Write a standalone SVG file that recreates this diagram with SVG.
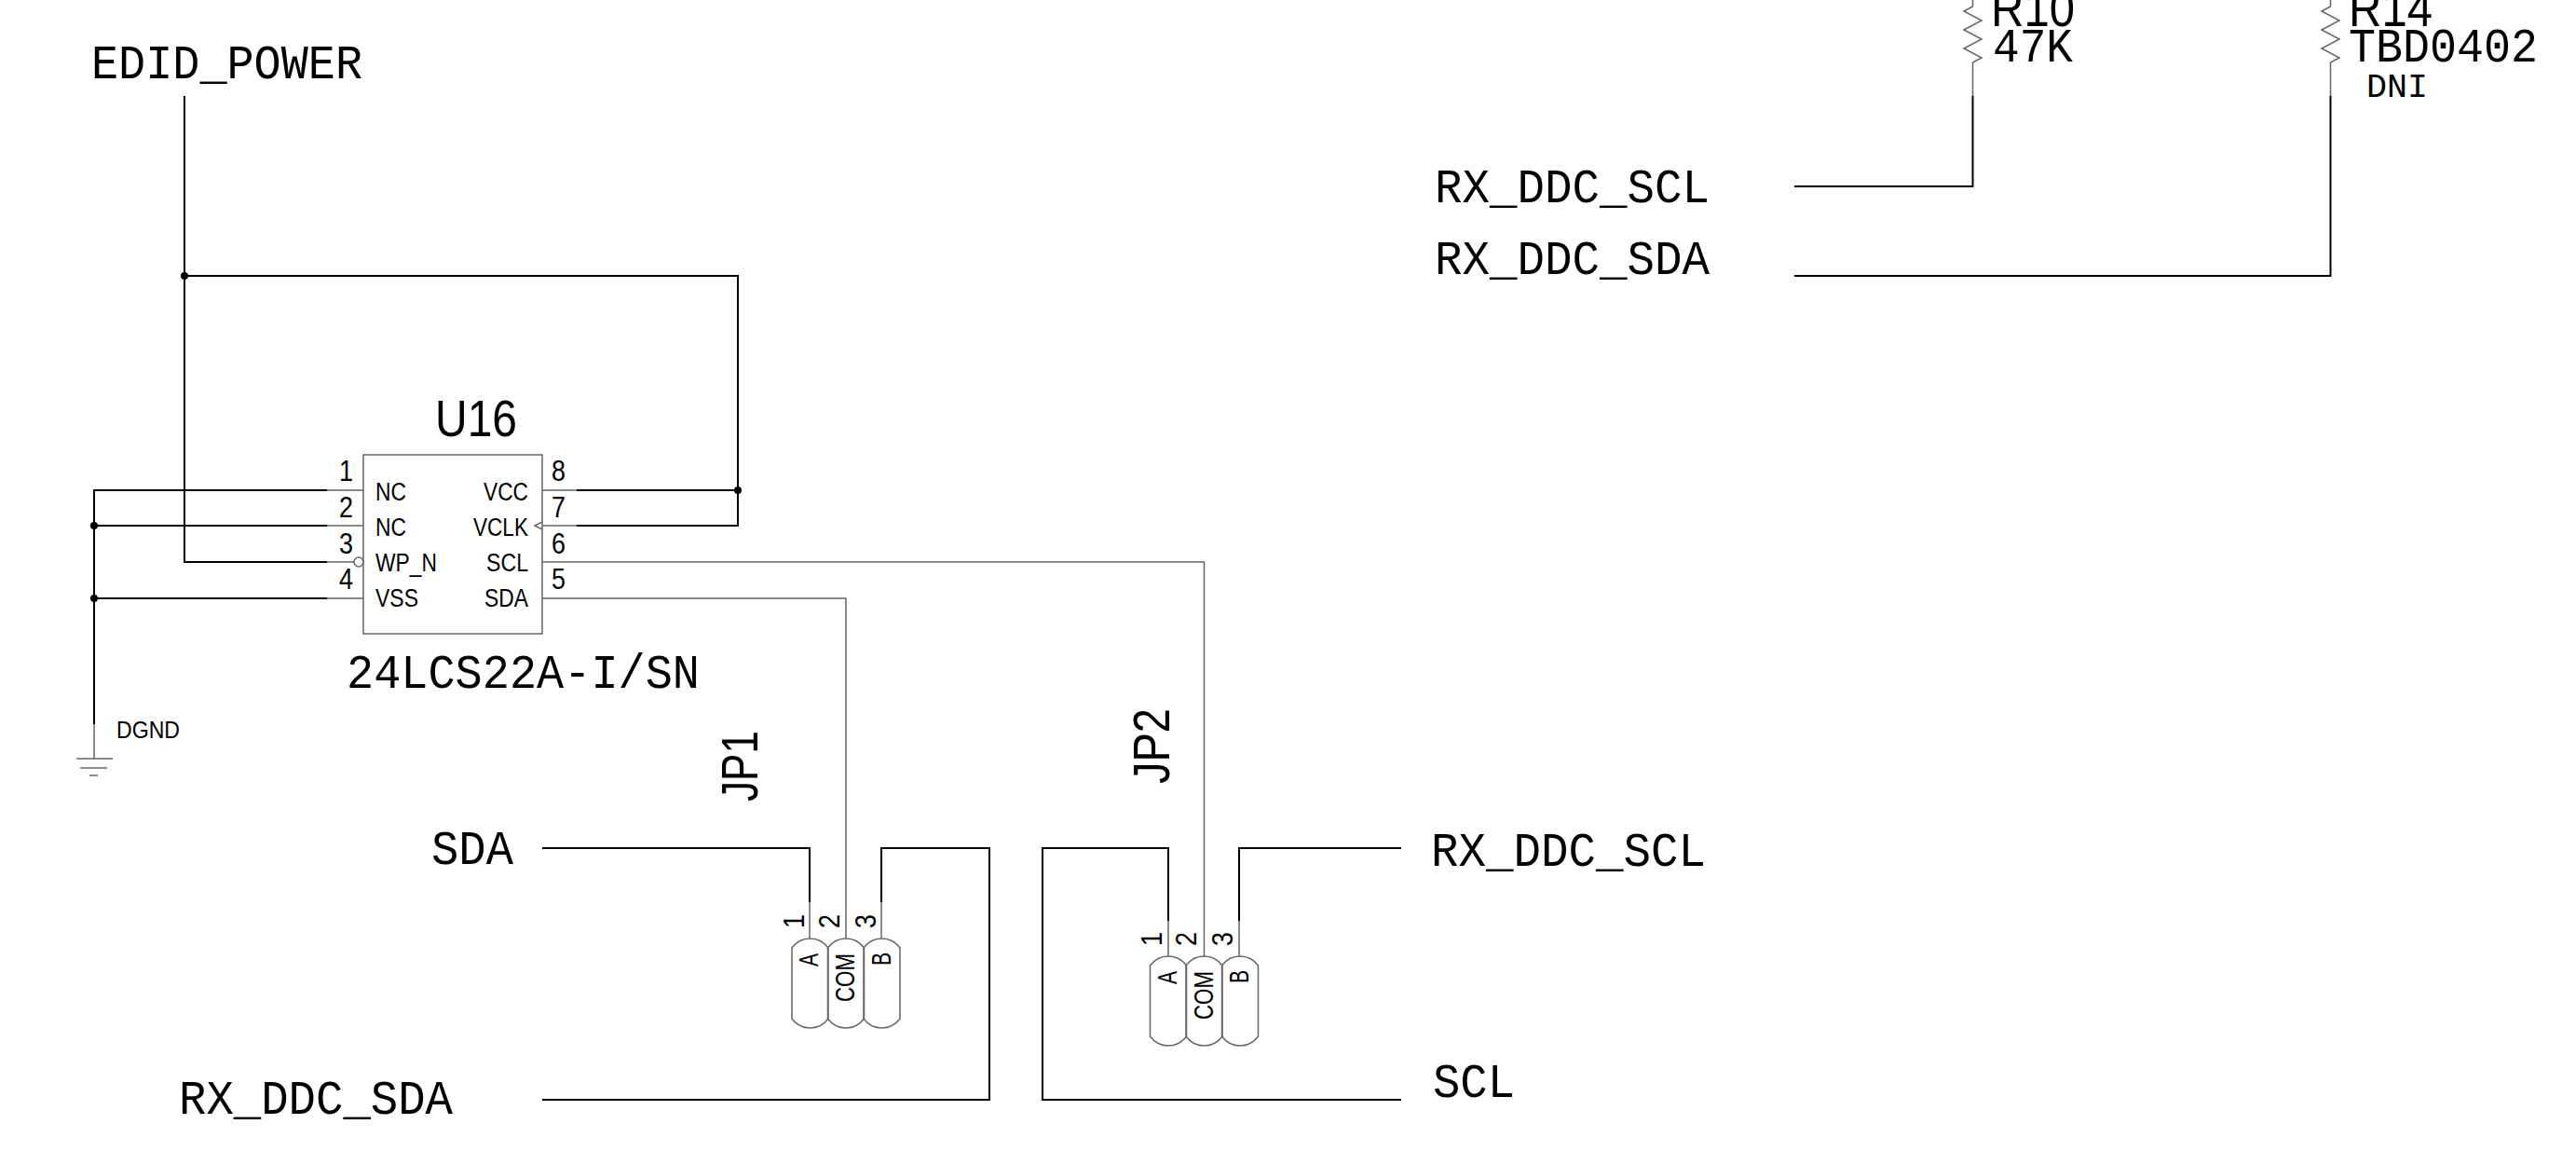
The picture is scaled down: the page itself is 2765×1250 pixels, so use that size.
<svg xmlns="http://www.w3.org/2000/svg" width="2765" height="1250" viewBox="0 0 2765 1250">
<defs>
<style>
text{fill:#000}
.w{fill:none;stroke:#000;stroke-width:2}
.g{fill:none;stroke:#666;stroke-width:1.5}
.m{font-family:"Liberation Mono",monospace;font-size:51px}
.s{font-family:"Liberation Mono",monospace;font-size:37px}
.r{font-family:"Liberation Sans",Arial,sans-serif;font-size:56px}
.p{font-family:"Liberation Sans",Arial,sans-serif;font-size:32px}
.i{font-family:"Liberation Sans",Arial,sans-serif;font-size:27px}
.l{font-family:"Liberation Sans",Arial,sans-serif;font-size:30px}
.d{font-family:"Liberation Sans",Arial,sans-serif;font-size:25px}
</style>
<path id="pill" class="g" d="M-19.500,10C-15,4 -8,0 0,0C8,0 15,4 19.500,10V86C15,92 8,96 0,96C-8,96 -15,92 -19.500,86Z"/>
<path id="zig" class="g" d="M0,0V7L-9.500,12L9.500,22L-9.500,32L9.500,42L-9.500,52L9.500,62L0,67V103"/>
</defs>
<g id="connectors">
<path class="w" d="M198,103V603H351"/>
<path class="w" d="M198,296H792V564H619"/>
<path class="w" d="M619,526H792"/>
<path class="w" d="M351,526H101V777"/>
<path class="w" d="M101,564H351"/>
<path class="w" d="M101,642H351"/>
<path class="g" d="M582,603H1292.500V1026"/>
<path class="g" d="M582,642H908V1007"/>
<path class="w" d="M582,910H869V968"/>
<path class="g" d="M869,968V1007"/>
<path class="w" d="M946,968V910H1062V1180H582"/>
<path class="g" d="M946,968V1007"/>
<path class="w" d="M1504,910H1330V988"/>
<path class="g" d="M1330,988V1026"/>
<path class="w" d="M1254,988V910H1119V1180H1504"/>
<path class="g" d="M1254,988V1026"/>
<path class="w" d="M2117.500,103V200H1926"/>
<path class="w" d="M2501.500,103V296H1926"/>
<circle cx="198" cy="296" r="4"/>
<circle cx="792" cy="526" r="4"/>
<circle cx="101" cy="564" r="4"/>
<circle cx="101" cy="642" r="4"/>
</g>
<g id="EDID_POWER"><text class="m" x="98" y="84" textLength="291" lengthAdjust="spacingAndGlyphs">EDID_POWER</text></g>
<g id="U16">
<rect class="g" x="390" y="488" width="192" height="192"/>
<path class="g" d="M351,526H390M351,564H390M351,603H380M351,642H390M582,526H619M582,564H619"/>
<circle class="g" cx="385" cy="603" r="5" style="fill:#fff"/>
<path class="g" d="M582,560L574,564L582,568"/>
<text class="r" x="467" y="468" textLength="88" lengthAdjust="spacingAndGlyphs">U16</text>
<text class="p" x="364" y="516" textLength="15" lengthAdjust="spacingAndGlyphs">1</text>
<text class="p" x="364" y="555" textLength="15" lengthAdjust="spacingAndGlyphs">2</text>
<text class="p" x="364" y="594" textLength="15" lengthAdjust="spacingAndGlyphs">3</text>
<text class="p" x="364" y="632" textLength="15" lengthAdjust="spacingAndGlyphs">4</text>
<text class="p" x="592" y="516" textLength="15" lengthAdjust="spacingAndGlyphs">8</text>
<text class="p" x="592" y="555" textLength="15" lengthAdjust="spacingAndGlyphs">7</text>
<text class="p" x="592" y="594" textLength="15" lengthAdjust="spacingAndGlyphs">6</text>
<text class="p" x="592" y="632" textLength="15" lengthAdjust="spacingAndGlyphs">5</text>
<text class="i" x="403" y="537" textLength="33" lengthAdjust="spacingAndGlyphs">NC</text>
<text class="i" x="403" y="575" textLength="33" lengthAdjust="spacingAndGlyphs">NC</text>
<text class="i" x="403" y="613" textLength="66" lengthAdjust="spacingAndGlyphs">WP_N</text>
<text class="i" x="403" y="651" textLength="46" lengthAdjust="spacingAndGlyphs">VSS</text>
<text class="i" x="519" y="537" textLength="48" lengthAdjust="spacingAndGlyphs">VCC</text>
<text class="i" x="508" y="575" textLength="59" lengthAdjust="spacingAndGlyphs">VCLK</text>
<text class="i" x="522" y="613" textLength="45" lengthAdjust="spacingAndGlyphs">SCL</text>
<text class="i" x="520" y="651" textLength="47" lengthAdjust="spacingAndGlyphs">SDA</text>
<text class="m" x="372" y="738" textLength="379" lengthAdjust="spacingAndGlyphs">24LCS22A-I/SN</text>
</g>
<g id="DGND">
<path class="g" d="M101,777V814M82,814H121M86,824H115M96,832H105"/>
<text class="d" x="125" y="792" textLength="68" lengthAdjust="spacingAndGlyphs">DGND</text>
</g>
<g id="JP1">
<use href="#pill" x="869.500" y="1007"/>
<use href="#pill" x="908" y="1007"/>
<use href="#pill" x="946.500" y="1007"/>
<text class="r" transform="translate(813,860) rotate(-90)" textLength="76" lengthAdjust="spacingAndGlyphs">JP1</text>
<text class="p" transform="translate(863,996) rotate(-90)" textLength="15" lengthAdjust="spacingAndGlyphs">1</text>
<text class="p" transform="translate(901,996) rotate(-90)" textLength="15" lengthAdjust="spacingAndGlyphs">2</text>
<text class="p" transform="translate(939.500,996) rotate(-90)" textLength="15" lengthAdjust="spacingAndGlyphs">3</text>
<text class="l" transform="translate(878,1037) rotate(-90)" textLength="14" lengthAdjust="spacingAndGlyphs">A</text>
<text class="l" transform="translate(917,1075) rotate(-90)" textLength="52" lengthAdjust="spacingAndGlyphs">COM</text>
<text class="l" transform="translate(955.500,1036) rotate(-90)" textLength="14" lengthAdjust="spacingAndGlyphs">B</text>
</g>
<g id="JP2">
<use href="#pill" x="1254" y="1026"/>
<use href="#pill" x="1292.500" y="1026"/>
<use href="#pill" x="1331" y="1026"/>
<text class="r" transform="translate(1255,841) rotate(-90)" textLength="81" lengthAdjust="spacingAndGlyphs">JP2</text>
<text class="p" transform="translate(1246.500,1015) rotate(-90)" textLength="15" lengthAdjust="spacingAndGlyphs">1</text>
<text class="p" transform="translate(1284,1015) rotate(-90)" textLength="15" lengthAdjust="spacingAndGlyphs">2</text>
<text class="p" transform="translate(1323,1015) rotate(-90)" textLength="15" lengthAdjust="spacingAndGlyphs">3</text>
<text class="l" transform="translate(1262.500,1056) rotate(-90)" textLength="14" lengthAdjust="spacingAndGlyphs">A</text>
<text class="l" transform="translate(1301.500,1094) rotate(-90)" textLength="52" lengthAdjust="spacingAndGlyphs">COM</text>
<text class="l" transform="translate(1340,1055) rotate(-90)" textLength="14" lengthAdjust="spacingAndGlyphs">B</text>
</g>
<g id="SDA"><text class="m" x="463" y="927" textLength="88" lengthAdjust="spacingAndGlyphs">SDA</text></g>
<g id="RX_DDC_SDA_1"><text class="m" x="192" y="1195" textLength="294" lengthAdjust="spacingAndGlyphs">RX_DDC_SDA</text></g>
<g id="RX_DDC_SCL_1"><text class="m" x="1536" y="929" textLength="295" lengthAdjust="spacingAndGlyphs">RX_DDC_SCL</text></g>
<g id="SCL"><text class="m" x="1538" y="1177" textLength="88" lengthAdjust="spacingAndGlyphs">SCL</text></g>
<g id="RX_DDC_SCL_2"><text class="m" x="1540" y="217" textLength="295" lengthAdjust="spacingAndGlyphs">RX_DDC_SCL</text></g>
<g id="RX_DDC_SDA_2"><text class="m" x="1540" y="294" textLength="295" lengthAdjust="spacingAndGlyphs">RX_DDC_SDA</text></g>
<g id="R10">
<use href="#zig" x="2117.500" y="0"/>
<text class="r" x="2137" y="28" textLength="90" lengthAdjust="spacingAndGlyphs">R10</text>
<text class="m" x="2139" y="66" textLength="86" lengthAdjust="spacingAndGlyphs">47K</text>
</g>
<g id="R14">
<use href="#zig" x="2501.500" y="0"/>
<text class="r" x="2521" y="28" textLength="90" lengthAdjust="spacingAndGlyphs">R14</text>
<text class="m" x="2521" y="66" textLength="203" lengthAdjust="spacingAndGlyphs">TBD0402</text>
<text class="s" x="2540" y="104" textLength="66" lengthAdjust="spacingAndGlyphs">DNI</text>
</g>
</svg>
